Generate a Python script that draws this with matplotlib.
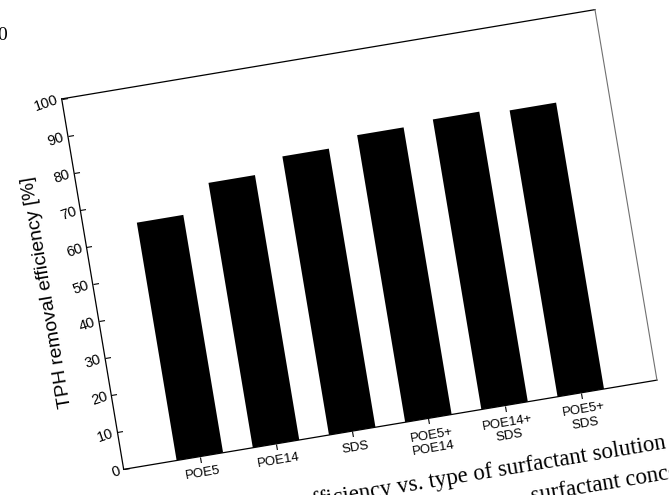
import numpy as np
import matplotlib.pyplot as plt
from matplotlib.transforms import Affine2D
from mpl_toolkits.axisartist import floating_axes
from mpl_toolkits.axisartist.grid_finder import FixedLocator, DictFormatter

plt.rcParams['font.family'] = ['Liberation Sans', 'DejaVu Sans']

surfactants = ['POE5', 'POE14', 'SDS', 'POE5+\nPOE14', 'POE14+\nSDS', 'POE5+\nSDS']
positions = [1, 2, 3, 4, 5, 6]
tph_removal = [64.2, 71.5, 75.2, 77.5, 78.3, 77.3]
y_ticks = [0, 10, 20, 30, 40, 50, 60, 70, 80, 90, 100]

W, H = 669, 495
tilt = 9.5  # the page was scanned a bit crooked

# scale so that the axes box is ~541 x 376 px before rotation
tr = Affine2D().scale(77.24, 3.756).rotate_deg(tilt)

grid_helper = floating_axes.GridHelperCurveLinear(
    tr, extremes=(0, 7, 0, 100),
    grid_locator1=FixedLocator(positions),
    tick_formatter1=DictFormatter(dict(zip(positions, surfactants))),
    grid_locator2=FixedLocator(y_ticks),
    tick_formatter2=DictFormatter({v: str(v) for v in y_ticks}))

fig = plt.figure(figsize=(W / 100, H / 100), dpi=100)
ax = fig.add_axes([0.0833, 0.0425, 0.9076, 0.9473],
                  axes_class=floating_axes.FloatingAxes, grid_helper=grid_helper)

aux = ax.get_aux_axes(tr)
aux.patch = ax.patch
ax.patch.zorder = 0.9
aux.bar(positions, tph_removal, width=0.61, color='black', zorder=1)

for side in ['top', 'right']:
    ax.axis[side].toggle(ticks=False, ticklabels=False, label=False)
ax.axis['top'].line.set_linewidth(0.9)
ax.axis['right'].line.set_linewidth(0.8)
ax.axis['right'].line.set_color('#707070')

left = ax.axis['left']
left.line.set_linewidth(0.9)
left.major_ticks.set_ticksize(4)
left.major_ticklabels.set_fontsize(10.5)
left.major_ticklabels.set_rotation(90 + tilt)  # axisartist adds -90 for the left side
left.major_ticklabels.set_pad(3)
left.label.set_text('TPH removal efficiency [%]')
left.label.set_fontsize(14)
left.label.set_pad(6)

bottom = ax.axis['bottom']
bottom.line.set_linewidth(0.9)
bottom.major_ticks.set_ticksize(4)
bottom.major_ticks.set_tick_out(True)
bottom.major_ticklabels.set_fontsize(9.5)
bottom.major_ticklabels.set_va('top')
bottom.major_ticklabels.set_pad(4)

# bits of the page that show round the figure
serif = ['Liberation Serif', 'DejaVu Serif']
fig.text(667 / W, (H - 448) / H, 'efficiency vs. type of surfactant solution',
         family=serif, fontsize=16.5, rotation=tilt, rotation_mode='anchor',
         ha='right', va='baseline')
fig.text(532 / W, (H - 502) / H, 'surfactant concentration',
         family=serif, fontsize=16.5, rotation=tilt, rotation_mode='anchor',
         ha='left', va='baseline')
fig.text(-3 / W, (H - 40) / H, '0', family=serif, fontsize=14,
         ha='left', va='baseline')

fig.savefig('out.png', dpi=100)
